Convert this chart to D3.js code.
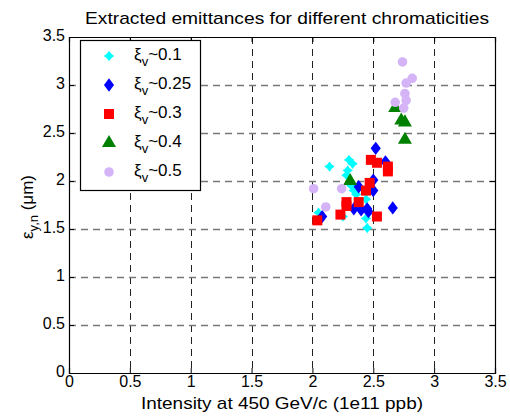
<!DOCTYPE html>
<html>
<head>
<meta charset="utf-8">
<script src="https://cdn.jsdelivr.net/npm/d3@7"></script>
<style>
  body { margin: 0; background: #fff; }
  svg { display: block; font-family: "Liberation Sans", Arial, sans-serif; }
</style>
</head>
<body>
<svg id="chart" width="510" height="416"></svg>
<script>
// ---- data ----
const xTicks = [0, 0.5, 1, 1.5, 2, 2.5, 3, 3.5];
const yTicks = [0, 0.5, 1, 1.5, 2, 2.5, 3, 3.5];
const seriesNames = ["0.1", "0.25", "0.3", "0.4", "0.5"];

const xi01 = [[2.14,2.15],[2.30,2.22],[2.33,2.18],[2.29,2.11],[2.28,2.06],[2.34,1.90],[2.36,1.86],[2.44,1.81],[2.05,1.67],[2.25,1.63],[2.44,1.61],[2.45,1.51],[2.32,1.95]];
const xi025 = [[2.52,2.34],[2.60,2.20],[2.50,2.01],[2.38,1.94],[2.50,1.90],[2.34,1.71],[2.40,1.70],[2.45,1.71],[2.46,1.68],[2.66,1.72],[2.08,1.63]];
const xi03 = [[2.48,2.22],[2.53,2.19],[2.62,2.15],[2.62,2.10],[2.47,1.98],[2.44,1.90],[2.28,1.78],[2.28,1.74],[2.38,1.78],[2.23,1.65],[2.53,1.63],[2.04,1.59]];
const xi04 = [[2.31,2.00],[2.68,2.76],[2.73,2.63],[2.76,2.61],[2.76,2.43]];
const xi05 = [[2.74,3.24],[2.82,3.07],[2.77,3.02],[2.76,2.91],[2.77,2.84],[2.68,2.82],[2.75,2.76],[2.01,1.92],[2.24,1.92],[2.11,1.73]];

const title = "Extracted emittances for different chromaticities";
const xLabel = "Intensity at 450 GeV/c (1e11 ppb)";

// ---- layout ----
const svg = d3.select("#chart");
const L = 69, R = 495, T = 37, B = 373;
const x = d3.scaleLinear().domain([0, 3.5]).range([L, R]);
const y = d3.scaleLinear().domain([0, 3.5]).range([B, T]);

// custom symbols
const symStar4 = { draw(ctx, size) {
  const r = Math.sqrt(size) * 0.75, w = r * 0.42;
  ctx.moveTo(0, -r); ctx.lineTo(w, -w); ctx.lineTo(r, 0); ctx.lineTo(w, w);
  ctx.lineTo(0, r); ctx.lineTo(-w, w); ctx.lineTo(-r, 0); ctx.lineTo(-w, -w); ctx.closePath();
}};
const symDiamond = { draw(ctx, size) {
  const s = Math.sqrt(size), h = s * 0.72, w = s * 0.55;
  ctx.moveTo(0, -h); ctx.lineTo(w, 0); ctx.lineTo(0, h); ctx.lineTo(-w, 0); ctx.closePath();
}};

const styles = [
  {data: xi01,  color: "#00ffff", sym: symStar4,          size: 48},
  {data: xi025, color: "#0000ff", sym: symDiamond,        size: 85},
  {data: xi03,  color: "#ff0000", sym: d3.symbolSquare,   size: 100},
  {data: xi04,  color: "#008000", sym: d3.symbolTriangle, size: 85},
  {data: xi05,  color: "#d4b4f7", sym: d3.symbolCircle,   size: 72}
];

// grid
const grid = svg.append("g");
grid.selectAll("line.vg").data(xTicks.slice(1, -1)).enter().append("line")
  .attr("x1", d => Math.round(x(d)) + 0.5).attr("x2", d => Math.round(x(d)) + 0.5)
  .attr("y1", T).attr("y2", B)
  .attr("stroke", "#222").attr("stroke-dasharray", "7,5");
grid.selectAll("line.hg").data(yTicks.slice(1, -1)).enter().append("line")
  .attr("y1", d => Math.round(y(d)) + 0.5).attr("y2", d => Math.round(y(d)) + 0.5)
  .attr("x1", L).attr("x2", R)
  .attr("stroke", "#777").attr("stroke-width", 1.4).attr("stroke-dasharray", "7,5");

// axes
const fs = 16;
const ax = svg.append("g").attr("transform", `translate(0,${B})`)
  .call(d3.axisBottom(x).tickValues(xTicks).tickSize(-5).tickPadding(3).tickFormat(d3.format("")));
const axTop = svg.append("g").attr("transform", `translate(0,${T})`)
  .call(d3.axisTop(x).tickValues(xTicks).tickSize(-5).tickFormat(""));
const ay = svg.append("g").attr("transform", `translate(${L},0)`)
  .call(d3.axisLeft(y).tickValues(yTicks).tickSize(-5).tickPadding(4).tickFormat(d3.format("")));
const ayR = svg.append("g").attr("transform", `translate(${R},0)`)
  .call(d3.axisRight(y).tickValues(yTicks).tickSize(-5).tickFormat(""));
[ax, axTop, ay, ayR].forEach(g => {
  g.selectAll("path").attr("stroke", "#000").attr("stroke-width", 1.2);
  g.selectAll("line").attr("stroke", "#000");
  g.selectAll("text").attr("fill", "#000").style("font-size", fs + "px")
    .style("font-family", "'Liberation Sans', Arial, sans-serif");
});
ay.selectAll("text").attr("dy", "0.2em");

// points
styles.forEach(s => {
  svg.append("g").selectAll("path").data(s.data).enter().append("path")
    .attr("d", d3.symbol().type(s.sym).size(s.size))
    .attr("transform", d => `translate(${x(d[0])},${y(d[1])})`)
    .attr("fill", s.color);
});

// legend
const lg = svg.append("g");
lg.append("rect").attr("x", 80.5).attr("y", 40.5).attr("width", 120).attr("height", 150)
  .attr("fill", "#fff").attr("stroke", "#000").attr("stroke-width", 1.2);
const ly0 = 56, ldy = 29;
styles.forEach((s, i) => {
  const cy = ly0 + i * ldy;
  lg.append("path").attr("d", d3.symbol().type(s.sym).size(s.size))
    .attr("transform", `translate(109,${cy})`).attr("fill", s.color);
  const t = lg.append("text").attr("x", 134).attr("y", cy + 4)
    .style("font-size", "17px").attr("fill", "#000");
  t.append("tspan").text("\u03be");
  t.append("tspan").attr("dy", 6).style("font-size", "13px").text("v");
  t.append("tspan").attr("dy", -6).text("~" + seriesNames[i]);
});

// title
svg.append("text").attr("x", 287).attr("y", 24).attr("text-anchor", "middle")
  .style("font-size", "17px").attr("textLength", 404).attr("lengthAdjust", "spacingAndGlyphs")
  .text(title);

// x label
svg.append("text").attr("x", 282).attr("y", 409).attr("text-anchor", "middle")
  .style("font-size", "17px").attr("textLength", 282).attr("lengthAdjust", "spacingAndGlyphs")
  .text(xLabel);

// y label
const yl = svg.append("text").attr("transform", "translate(33,207) rotate(-90)")
  .attr("text-anchor", "middle").style("font-size", "17px");
yl.append("tspan").text("\u03b5");
yl.append("tspan").attr("dy", 5).style("font-size", "13px").text("y,n");
yl.append("tspan").attr("dy", -5).text(" (\u03bcm)");
</script>
</body>
</html>
